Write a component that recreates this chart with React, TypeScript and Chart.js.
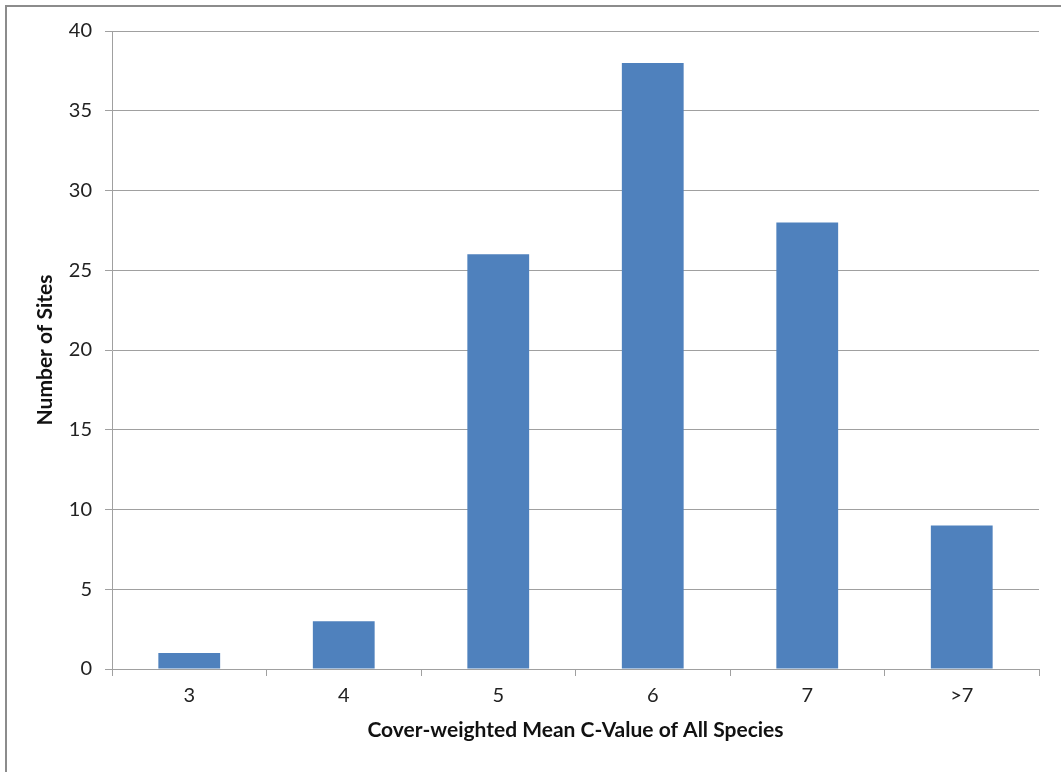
import React, { useEffect, useRef } from "react";
import { Chart, registerables } from "chart.js";

Chart.register(...registerables);

const categories = ["3", "4", "5", "6", "7", ">7"];
const siteCounts = [1, 3, 26, 38, 28, 9];
const yTicks = [0, 5, 10, 15, 20, 25, 30, 35, 40];

const FONT = "Lato, 'Open Sans', sans-serif";

export default function App() {
  const ref = useRef<HTMLCanvasElement | null>(null);
  useEffect(() => {
    document.body.style.margin = "0";
    const ctx = ref.current!;
    const chart = new Chart(ctx, {
      type: "bar",
      data: {
        labels: categories,
        datasets: [
          {
            data: siteCounts,
            backgroundColor: "#4F81BD",
            borderWidth: 0,
            categoryPercentage: 1,
            barPercentage: 0.4,
          },
        ],
      },
      options: {
        animation: false,
        responsive: false,
        layout: { padding: { top: 31, right: 22, left: 0, bottom: 0 } },
        plugins: { legend: { display: false }, tooltip: { enabled: false } },
        scales: {
          x: {
            offset: true,
            grid: {
              offset: true,
              drawOnChartArea: false,
              drawTicks: true,
              tickLength: 7,
              color: "#A0A0A0",
            },
            border: { color: "#A0A0A0", width: 1 },
            ticks: { color: "#222", font: { family: FONT, size: 20 }, padding: 8 },
            title: {
              display: true,
              text: "Cover-weighted Mean C-Value of All Species",
              color: "#111",
              font: { family: FONT, size: 21, weight: "bold" },
              padding: { top: 8, bottom: 29 },
            },
            afterFit: (s: any) => {
              s.height = 103;
            },
          },
          y: {
            min: 0,
            max: 40,
            afterBuildTicks: (s: any) => {
              s.ticks = yTicks.map((v) => ({ value: v }));
            },
            grid: { color: "#A0A0A0", tickLength: 7 },
            border: { color: "#A0A0A0", width: 1 },
            ticks: { color: "#222", font: { family: FONT, size: 20 }, padding: 13 },
            title: {
              display: true,
              text: "Number of Sites",
              color: "#111",
              font: { family: FONT, size: 21, weight: "bold" },
              padding: { top: 33 },
            },
            afterFit: (s: any) => {
              s.width = 112;
            },
          },
        },
      },
    });
    return () => chart.destroy();
  }, []);
  return (
    <div
      style={{
        position: "fixed",
        left: 0,
        top: 0,
        width: 1061,
        height: 772,
        background: "#fff",
      }}
    >
      <div
        style={{
          position: "absolute",
          left: 5,
          top: 5,
          width: 1061,
          height: 772,
          borderLeft: "2px solid #8c8c8c",
          borderTop: "2px solid #8c8c8c",
          boxSizing: "border-box",
        }}
      />
      <canvas
        ref={ref}
        width={1061}
        height={772}
        style={{ position: "absolute", left: 0, top: 0, width: 1061, height: 772 }}
      />
    </div>
  );
}
